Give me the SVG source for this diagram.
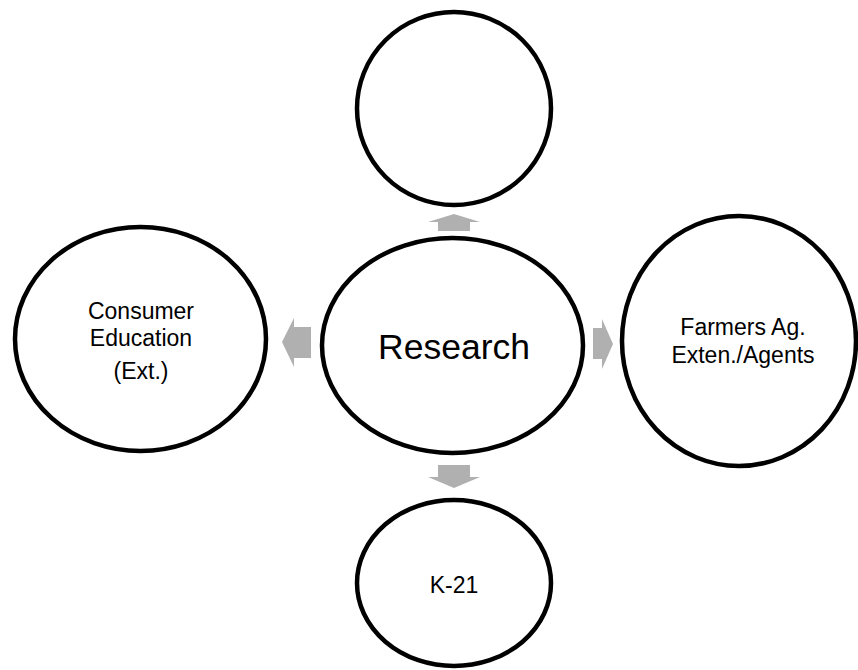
<svg xmlns="http://www.w3.org/2000/svg" width="858" height="670" viewBox="0 0 858 670">
<style>
.node{fill:#ffffff;stroke:#000000;stroke-width:4.5}
.lbl{font-family:"Liberation Sans","Open Sans",Arial,sans-serif;font-size:23px;fill:#000000;text-anchor:middle}
.big{font-size:35.5px}
.arr{fill:#b0b0b0;stroke:none}
</style>
<rect width="858" height="670" fill="#ffffff"/>
<g id="connectors">
<polygon class="arr" points="454,214 480,222 470,222 470,231 438,231 438,222 428,222"/>
<polygon class="arr" points="454,488 480,477 470,477 470,465 438,465 438,477 428,477"/>
<polygon class="arr" points="282,342 294,318 294,327 311,327 311,358 294,358 294,367"/>
<polygon class="arr" points="613,344 602,319 602,328 593,328 593,359 602,359 602,369"/>
</g>
<g id="node-top">
<ellipse class="node" cx="454" cy="108.5" rx="97" ry="96.5"/>
</g>
<g id="node-research">
<ellipse class="node" cx="452.5" cy="345.5" rx="130.5" ry="107.5"/>
<text class="lbl big" x="454" y="359">Research</text>
</g>
<g id="node-consumer">
<ellipse class="node" cx="140.5" cy="339" rx="125.5" ry="112"/>
<text class="lbl" x="141" y="318.5">Consumer</text>
<text class="lbl" x="141" y="345.5">Education</text>
<text class="lbl" x="141" y="379">(Ext.)</text>
</g>
<g id="node-farmers">
<ellipse class="node" cx="739" cy="341" rx="117" ry="125"/>
<text class="lbl" x="743" y="335">Farmers Ag.</text>
<text class="lbl" x="743" y="363">Exten./Agents</text>
</g>
<g id="node-k21">
<ellipse class="node" cx="454" cy="583" rx="97" ry="83"/>
<text class="lbl" x="454" y="593">K-21</text>
</g>
</svg>
